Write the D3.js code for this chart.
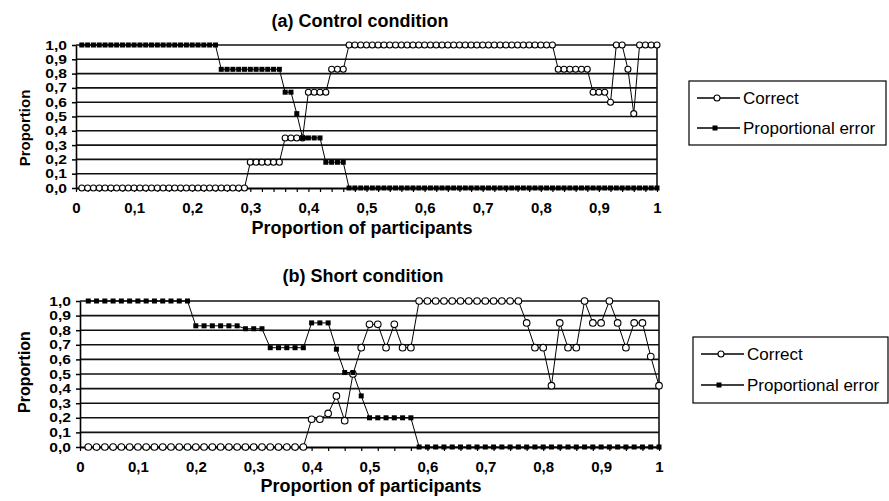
<!DOCTYPE html>
<html><head><meta charset="utf-8">
<script src="https://cdn.jsdelivr.net/npm/d3@7/dist/d3.min.js"></script>
<style>
body{margin:0;background:#fff}
svg text{font-family:"Liberation Sans",Arial,Helvetica,sans-serif;fill:#000}
</style>
</head><body>
<svg id="chart" width="889" height="501"></svg>
<script>
// ---- data ----
const seriesNames = ["Correct", "Proportional error"];
const panelTitles = ["(a) Control condition", "(b) Short condition"];
const xAxisTitle = "Proportion of participants";
const yAxisTitle = "Proportion";
const xTickValues = [0, 0.1, 0.2, 0.3, 0.4, 0.5, 0.6, 0.7, 0.8, 0.9, 1];
const xTickLabels = ["0", "0,1", "0,2", "0,3", "0,4", "0,5", "0,6", "0,7", "0,8", "0,9", "1"];
const yTickValues = [0, 0.1, 0.2, 0.3, 0.4, 0.5, 0.6, 0.7, 0.8, 0.9, 1];
const yTickLabels = ["0,0", "0,1", "0,2", "0,3", "0,4", "0,5", "0,6", "0,7", "0,8", "0,9", "1,0"];

// (a) Control condition: one value per participant (100 participants)
const controlCorrect = [
  0,0,0,0,0,0,0,0,0,0,
  0,0,0,0,0,0,0,0,0,0,
  0,0,0,0,0,0,0,0,0,0.18,
  0.18,0.18,0.18,0.18,0.18,0.35,0.35,0.35,0.35,0.67,
  0.67,0.67,0.67,0.83,0.83,0.83,1,1,1,1,
  1,1,1,1,1,1,1,1,1,1,
  1,1,1,1,1,1,1,1,1,1,
  1,1,1,1,1,1,1,1,1,1,
  1,1,0.83,0.83,0.83,0.83,0.83,0.83,0.67,0.67,
  0.67,0.6,1,1,0.83,0.52,1,1,1,1
];
const controlError = [
  1,1,1,1,1,1,1,1,1,1,
  1,1,1,1,1,1,1,1,1,1,
  1,1,1,1,0.83,0.83,0.83,0.83,0.83,0.83,
  0.83,0.83,0.83,0.83,0.83,0.67,0.67,0.52,0.35,0.35,
  0.35,0.35,0.18,0.18,0.18,0.18,0,0,0,0,
  0,0,0,0,0,0,0,0,0,0,
  0,0,0,0,0,0,0,0,0,0,
  0,0,0,0,0,0,0,0,0,0,
  0,0,0,0,0,0,0,0,0,0,
  0,0,0,0,0,0,0,0,0,0
];

// (b) Short condition: one value per participant (70 participants)
const shortCorrect = [
  0,0,0,0,0,0,0,0,0,0,
  0,0,0,0,0,0,0,0,0,0,
  0,0,0,0,0,0,0,0.19,0.19,0.23,
  0.35,0.18,0.5,0.68,0.84,0.84,0.68,0.84,0.68,0.68,
  1,1,1,1,1,1,1,1,1,1,
  1,1,1,0.85,0.68,0.68,0.42,0.85,0.68,0.68,
  1,0.85,0.85,1,0.85,0.68,0.85,0.85,0.62,0.42
];
const shortError = [
  1,1,1,1,1,1,1,1,1,1,
  1,1,1,0.83,0.83,0.83,0.83,0.83,0.83,0.81,
  0.81,0.81,0.68,0.68,0.68,0.68,0.68,0.85,0.85,0.85,
  0.67,0.51,0.51,0.35,0.2,0.2,0.2,0.2,0.2,0.2,
  0,0,0,0,0,0,0,0,0,0,
  0,0,0,0,0,0,0,0,0,0,
  0,0,0,0,0,0,0,0,0,0
];

// ---- drawing ----
const svg = d3.select("#chart");
const FONT = '"Liberation Sans",Arial,Helvetica,sans-serif';

function drawPanel(cfg) {
  const g = svg.append("g");
  const x = d3.scaleLinear().domain([0, 1]).range([cfg.x0, cfg.x1]);
  const y = d3.scaleLinear().domain([0, 1]).range([cfg.y0, cfg.y1]);
  const n = cfg.correct.length;
  const px = i => x((i + 1) / n);

  // horizontal gridlines
  g.append("g").selectAll("line").data(yTickValues.slice(1)).join("line")
    .attr("x1", x(0)).attr("x2", x(1))
    .attr("y1", d => y(d)).attr("y2", d => y(d))
    .attr("stroke", "#111").attr("stroke-width", 1.6);
  // right border
  g.append("line").attr("x1", x(1)).attr("x2", x(1)).attr("y1", y(0)).attr("y2", y(1))
    .attr("stroke", "#111").attr("stroke-width", 1.6);

  // y axis
  const ya = g.append("g").attr("transform", `translate(${x(0)},0)`)
    .call(d3.axisLeft(y).tickValues(yTickValues).tickFormat((d, i) => yTickLabels[i])
      .tickSize(4).tickSizeOuter(0).tickPadding(5));
  ya.select(".domain").attr("stroke", "#000").attr("stroke-width", 1.6);
  ya.selectAll(".tick line").attr("stroke", "#000").attr("stroke-width", 1.5);
  ya.selectAll("text").attr("font-family", FONT).attr("font-size", 12.5).attr("font-weight", "bold")
    .attr("fill", "#000").attr("x", -9 / 1.25).attr("transform", "scale(1.25,1)");

  // x axis: minor ticks every 2 participants
  const minor = d3.range(0, n + 1, 2).map(i => i / n);
  const xm = g.append("g").attr("transform", `translate(0,${y(0)})`)
    .call(d3.axisBottom(x).tickValues(minor).tickFormat("").tickSize(4).tickSizeOuter(0));
  xm.select(".domain").attr("stroke", "#000").attr("stroke-width", 2.2);
  xm.selectAll(".tick line").attr("stroke", "#000").attr("stroke-width", 1.2);

  // x axis labels
  const xa = g.append("g").attr("transform", `translate(0,${y(0)})`)
    .call(d3.axisBottom(x).tickValues(xTickValues).tickFormat((d, i) => xTickLabels[i]).tickSize(0).tickSizeOuter(0).tickPadding(14));
  xa.select(".domain").remove();
  xa.selectAll("text").attr("font-family", FONT).attr("font-size", 15).attr("font-weight", "bold").attr("fill", "#000");

  // series lines
  const line = (vals) => d3.line().x((d, i) => px(i)).y(d => y(d))(vals);
  g.append("path").attr("d", line(cfg.correct)).attr("fill", "none").attr("stroke", "#000").attr("stroke-width", 1);
  g.append("path").attr("d", line(cfg.error)).attr("fill", "none").attr("stroke", "#000").attr("stroke-width", 1);

  // markers: Correct = open circles
  g.append("g").selectAll("circle").data(cfg.correct).join("circle")
    .attr("cx", (d, i) => px(i)).attr("cy", d => y(d)).attr("r", cfg.r)
    .attr("fill", "#fff").attr("stroke", "#000").attr("stroke-width", 1.1);
  // Proportional error = filled squares
  const s = cfg.sq;
  g.append("g").selectAll("rect").data(cfg.error).join("rect")
    .attr("x", (d, i) => px(i) - s / 2).attr("y", d => y(d) - s / 2)
    .attr("width", s).attr("height", s).attr("fill", "#000");

  // titles
  g.append("text").attr("x", cfg.titleX).attr("y", cfg.titleY).attr("text-anchor", "middle")
    .attr("font-size", 18).attr("font-weight", "bold").text(cfg.title);
  g.append("text").attr("x", cfg.xtX).attr("y", cfg.xtY).attr("text-anchor", "middle")
    .attr("font-size", 18).attr("font-weight", "bold").text(xAxisTitle);
  g.append("text").attr("transform", `translate(${cfg.ytX},${cfg.ytY}) rotate(-90)`).attr("text-anchor", "middle")
    .attr("font-size", cfg.ytSize).attr("font-weight", "bold").text(yAxisTitle);

  // legend
  const L = cfg.legend;
  g.append("rect").attr("x", L.x).attr("y", L.y).attr("width", L.w).attr("height", L.h)
    .attr("fill", "#fff").attr("stroke", "#000").attr("stroke-width", 1.2);
  seriesNames.forEach((name, k) => {
    const yy = L.y + L.rows[k];
    g.append("line").attr("x1", L.x + 8).attr("x2", L.x + 51).attr("y1", yy).attr("y2", yy)
      .attr("stroke", "#000").attr("stroke-width", 1.4);
    if (k === 0) {
      g.append("circle").attr("cx", L.x + 28).attr("cy", yy).attr("r", 3)
        .attr("fill", "#fff").attr("stroke", "#000").attr("stroke-width", 1.1);
    } else {
      g.append("rect").attr("x", L.x + 26 - 2.5).attr("y", yy - 2.5).attr("width", 5).attr("height", 5).attr("fill", "#000");
    }
    g.append("text").attr("x", L.x + 54).attr("y", yy + 6).attr("font-size", 17).text(name);
  });
}

drawPanel({
  correct: controlCorrect, error: controlError,
  x0: 76, x1: 657, y0: 188, y1: 45, r: 3, sq: 5,
  title: panelTitles[0], titleX: 360, titleY: 27,
  xtX: 362, xtY: 234, ytX: 30, ytY: 128, ytSize: 15,
  legend: { x: 689, y: 81, w: 197, h: 64, rows: [17, 47] }
});
drawPanel({
  correct: shortCorrect, error: shortError,
  x0: 80, x1: 659, y0: 447, y1: 301, r: 3.3, sq: 5,
  title: panelTitles[1], titleX: 363, titleY: 282,
  xtX: 371, xtY: 492, ytX: 30, ytY: 372, ytSize: 16,
  legend: { x: 693, y: 337, w: 195, h: 66, rows: [17, 48] }
});
</script>
</body></html>
